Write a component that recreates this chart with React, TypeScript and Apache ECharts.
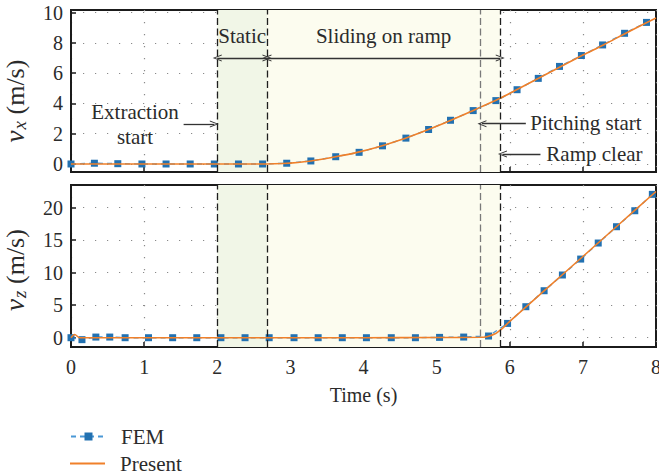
import React, { useEffect, useRef } from "react";
import * as echarts from "echarts";

// FEM samples (time s, velocity m/s)
const femVxT = [0, 0.32, 0.64, 0.97, 1.3, 1.63, 1.96, 2.29, 2.62, 2.95, 3.28, 3.62, 3.94, 4.26, 4.58, 4.89, 5.19, 5.5, 5.81, 6.1, 6.39, 6.68, 6.98, 7.27, 7.57, 7.87];
const femVx = [0, 0.05, 0.02, 0, 0, 0, 0, 0, 0, 0.05, 0.2, 0.48, 0.77, 1.2, 1.71, 2.28, 2.89, 3.53, 4.19, 4.91, 5.66, 6.45, 7.17, 7.87, 8.64, 9.36];

const femVzT = [0, 0.15, 0.34, 0.53, 0.74, 1.06, 1.39, 1.72, 2.05, 2.38, 2.71, 3.05, 3.38, 3.71, 4.04, 4.38, 4.71, 5.04, 5.37, 5.71, 5.97, 6.22, 6.47, 6.72, 6.97, 7.21, 7.46, 7.71, 7.95];
const femVz = [0, -0.3, 0.1, 0.1, 0, 0, 0, 0, 0, 0, 0, 0, 0, 0, 0, 0, 0, 0.05, 0.1, 0.26, 2.2, 4.77, 7.23, 9.65, 12.1, 14.57, 17.08, 19.54, 22.06];

// Present model curves
const presVxT = [0, 0.5, 1, 1.5, 2, 2.5, 2.68, 2.9, 3.1, 3.3, 3.6, 3.9, 4.2, 4.5, 4.8, 5.1, 5.4, 5.6, 5.87, 6.1, 6.4, 6.7, 7.0, 7.3, 7.6, 8.0];
const presVx = [0, 0, 0, 0, 0, 0, 0, 0.03, 0.1, 0.21, 0.46, 0.75, 1.12, 1.58, 2.12, 2.7, 3.32, 3.76, 4.35, 4.92, 5.68, 6.45, 7.2, 7.92, 8.68, 9.65];

const presVzT = [0, 0.05, 0.12, 0.5, 1, 2, 3, 4, 5, 5.6, 5.7, 5.8, 5.9, 6.0, 6.5, 7.0, 7.5, 8.0];
const presVz = [0, 0.5, 0, 0, 0, 0, 0, 0, 0.03, 0.06, 0.2, 0.6, 1.45, 2.5, 7.5, 12.5, 17.5, 22.5];

// Phase boundaries (s)
const tExtraction = 2.0;
const tStatic = 2.68;
const tPitching = 5.6;
const tClear = 5.87;

const xTicks = [0, 1, 2, 3, 4, 5, 6, 7, 8];
const vxTicks = [0, 2, 4, 6, 8, 10];
const vzTicks = [0, 5, 10, 15, 20];

const FONT = "Liberation Serif";
const TXT = "#2b2b2b";
const BLUE = "#2271b1";
const BLUE_LINE = "#4a98d6";
const ORANGE = "#f0802a";
const FRAME = "#1b1b1b";

const pairs = (t: number[], v: number[]) => t.map((x, i) => [x, v[i]]);

const chevron = "path://M0,10 L5,0 L10,10 L8.6,10 L5,2.6 L1.4,10 Z";

export default function App() {
  const ref = useRef<HTMLDivElement>(null);

  useEffect(() => {
    if (!ref.current) return;
    const chart = echarts.init(ref.current, undefined, { renderer: "svg" });

    const axisLine = { show: true, onZero: false, lineStyle: { color: FRAME, width: 2 } };
    const tick = { show: true, inside: true, length: 5, lineStyle: { color: FRAME, width: 1.5 } };
    const dotted = { show: true, lineStyle: { color: "#8a8a8a", width: 1.2, type: [1.2, 10.8] } };

    const xAxis = (gridIndex: number, labels: boolean) => ({
      type: "value",
      gridIndex,
      min: 0,
      max: 8,
      interval: 1,
      axisLine,
      axisTick: tick,
      splitLine: dotted,
      axisLabel: {
        show: labels,
        margin: 10,
        fontFamily: FONT,
        fontSize: 20,
        color: TXT,
        customValues: xTicks,
      },
      name: labels ? "Time (s)" : "",
      nameLocation: "middle",
      nameGap: 38,
      nameTextStyle: { fontFamily: FONT, fontSize: 20, color: TXT },
    });

    const yName = (sub: string, shift: number) => ({
      name: `{v|v}{s|${sub}}{n| (m/s)}`,
      nameLocation: "middle",
      nameRotate: 90,
      nameGap: 36,
      nameTextStyle: {
        fontFamily: FONT,
        color: TXT,
        rich: {
          v: { fontFamily: FONT, fontStyle: "italic", fontSize: 27, color: TXT, lineHeight: 34, verticalAlign: "middle" },
          s: { fontFamily: FONT, fontStyle: "italic", fontSize: 19, color: TXT, lineHeight: 34, verticalAlign: "bottom", padding: [0, 0, 3, 1] },
          n: { fontFamily: FONT, fontSize: 26, color: TXT, lineHeight: 34, verticalAlign: "middle", padding: [0, shift, 0, 0] },
        },
      },
    });

    const yAxis = (gridIndex: number, min: number, max: number, ticks: number[], sub: string, shift: number) => ({
      type: "value",
      gridIndex,
      min,
      max,
      axisLine,
      axisTick: { ...tick, customValues: ticks },
      splitLine: dotted,
      axisLabel: { margin: 8, fontFamily: FONT, fontSize: 20, color: TXT, customValues: ticks },
      ...yName(sub, shift),
    });

    const dashed = (t: number, gray: boolean) => ({
      xAxis: t,
      lineStyle: { color: gray ? "#7a7a7a" : "#1e1e1e", width: 1.3, type: [7, 3.5] },
    });

    const phaseAreas = {
      silent: true,
      itemStyle: { opacity: 1 },
      data: [
        [{ xAxis: tExtraction, itemStyle: { color: "#f1f6e7" } }, { xAxis: tStatic }],
        [{ xAxis: tStatic, itemStyle: { color: "#fcfcef" } }, { xAxis: tClear }],
      ],
    };

    const phaseLineData = [
      dashed(tExtraction, false),
      dashed(tStatic, false),
      dashed(tPitching, true),
      dashed(tClear, false),
    ];

    const arrowStyle = { color: "#333333", width: 1.3, type: "solid" };
    const arrow = (x1: number, x2: number, y: number, both: boolean) => [
      { coord: [x1, y], symbol: both ? chevron : "none", lineStyle: arrowStyle },
      { coord: [x2, y], symbol: chevron },
    ];

    const note = (text: string, x: number, y: number, align: string) => ({
      coord: [x, y],
      value: text,
      label: {
        show: true,
        formatter: text,
        position: "inside",
        align,
        verticalAlign: "middle",
        fontFamily: FONT,
        fontSize: 21,
        lineHeight: 25,
        color: TXT,
      },
    });

    const shadeSeries = (idx: number) => ({
      name: "phases" + idx,
      type: "line",
      xAxisIndex: idx,
      yAxisIndex: idx,
      data: [],
      z: -1,
      silent: true,
      markArea: phaseAreas,
    });

    const legendText = { fontFamily: FONT, fontSize: 21, color: TXT, padding: [0, 0, 0, 10] };
    const frame = { show: true, borderColor: FRAME, borderWidth: 2, backgroundColor: "transparent", outerBoundsMode: "none", containLabel: false };

    const option = {
      animation: false,
      grid: [
        { left: 71, right: 3, top: 10, height: 162, ...frame },
        { left: 71, right: 3, top: 185, height: 162, ...frame },
      ],
      xAxis: [xAxis(0, false), xAxis(1, true)],
      yAxis: [yAxis(0, -0.53, 10.18, vxTicks, "x", 20), yAxis(1, -1.43, 23.5, vzTicks, "z", 8)],
      legend: [
        {
          data: ["FEM"],
          left: 70,
          top: 426,
          itemWidth: 35,
          itemHeight: 10,
          padding: 0,
          textStyle: legendText,
        },
        {
          data: [{ name: "Present", icon: "path://M0,0 L35,0 L35,2 L0,2 Z" }],
          left: 70,
          top: 453,
          itemWidth: 35,
          itemHeight: 2,
          padding: 0,
          textStyle: legendText,
        },
      ],
      series: [
        shadeSeries(0),
        shadeSeries(1),
        {
          name: "FEM",
          type: "line",
          xAxisIndex: 0,
          yAxisIndex: 0,
          data: pairs(femVxT, femVx),
          symbol: "rect",
          symbolSize: 7,
          itemStyle: { color: BLUE },
          lineStyle: { color: BLUE_LINE, width: 1.4, type: [5, 4] },
          z: 3,
        },
        {
          name: "FEM",
          type: "line",
          xAxisIndex: 1,
          yAxisIndex: 1,
          data: pairs(femVzT, femVz),
          symbol: "rect",
          symbolSize: 7,
          itemStyle: { color: BLUE },
          lineStyle: { color: BLUE_LINE, width: 1.4, type: [5, 4] },
          z: 3,
        },
        {
          name: "Present",
          type: "line",
          xAxisIndex: 0,
          yAxisIndex: 0,
          data: pairs(presVxT, presVx),
          smooth: 0.3,
          showSymbol: false,
          symbol: "none",
          itemStyle: { color: ORANGE },
          lineStyle: { color: ORANGE, width: 1.6 },
          z: 4,
          markLine: {
            silent: true,
            symbol: ["none", "none"],
            symbolSize: [7, 9],
            label: { show: false },
            data: [
              ...phaseLineData,
              arrow(tExtraction, tStatic, 7, true),
              arrow(tStatic, tClear, 7, true),
              arrow(1.54, 1.96, 2.64, false),
              arrow(6.22, 5.62, 2.66, false),
              arrow(6.42, 5.9, 0.66, false),
            ],
          },
          markPoint: {
            silent: true,
            symbol: "circle",
            symbolSize: 0,
            data: [
              note("Static", (tExtraction + tStatic) / 2, 8.45, "center"),
              note("Sliding on ramp", (tStatic + tClear) / 2, 8.45, "center"),
              note("Extraction\nstart", 0.875, 2.6, "center"),
              note("Pitching start", 6.28, 2.72, "left"),
              note("Ramp clear", 6.5, 0.66, "left"),
            ],
          },
        },
        {
          name: "Present",
          type: "line",
          xAxisIndex: 1,
          yAxisIndex: 1,
          data: pairs(presVzT, presVz),
          smooth: 0.3,
          showSymbol: false,
          symbol: "none",
          itemStyle: { color: ORANGE },
          lineStyle: { color: ORANGE, width: 1.6 },
          z: 4,
          markLine: {
            silent: true,
            symbol: ["none", "none"],
            label: { show: false },
            data: phaseLineData,
          },
        },
      ],
    };

    chart.setOption(option as any);
    return () => chart.dispose();
  }, []);

  return (
    <div
      ref={ref}
      style={{ position: "absolute", left: 0, top: 0, width: 659, height: 475, background: "#ffffff" }}
    />
  );
}
